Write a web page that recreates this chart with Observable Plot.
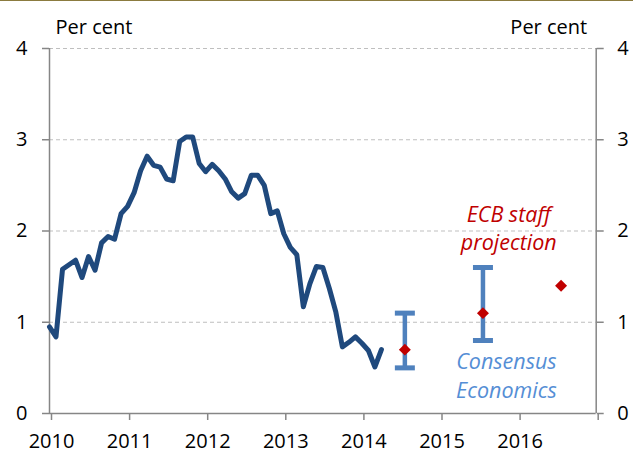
<!DOCTYPE html>
<html>
<head>
<meta charset="utf-8">
<script src="https://cdn.jsdelivr.net/npm/d3@7"></script>
<script src="https://cdn.jsdelivr.net/npm/@observablehq/plot@0.6"></script>
<style>
  html, body { margin: 0; padding: 0; background: #fff; }
  #chart { width: 633px; border-top: 1px solid #8B7B3F; }
  svg { display: block; }
</style>
</head>
<body>
<div id="chart"></div>
<script>
// Monthly HICP inflation (per cent), Jan 2010 – Apr 2014
const startYear = 2010;
const monthlyInflation = [
  0.95, 0.84, 1.58, 1.63, 1.68, 1.49, 1.72, 1.57, 1.87, 1.94, 1.91, 2.19,
  2.27, 2.42, 2.66, 2.82, 2.72, 2.70, 2.57, 2.55, 2.98, 3.03, 3.03, 2.74,
  2.65, 2.73, 2.66, 2.57, 2.43, 2.36, 2.41, 2.61, 2.61, 2.50, 2.19, 2.22,
  1.97, 1.82, 1.74, 1.17, 1.42, 1.61, 1.60, 1.37, 1.11, 0.73, 0.78, 0.84,
  0.77, 0.69, 0.51, 0.70
];

// Annual projections (placed at mid-year)
const projectionX = [2014.55, 2015.55, 2016.55];
const ecbProjection = [0.7, 1.1, 1.4];
const consensusX = [2014.55, 2015.55];
const consensusLow = [0.5, 0.8];
const consensusHigh = [1.1, 1.6];

// Axis ticks
const xTicks = [2010, 2011, 2012, 2013, 2014, 2015, 2016, 2017];
const yTicks = [0, 1, 2, 3, 4];
const unitLabel = "Per cent";

// Annotations
const annotationText = ["ECB staff\nprojection", "Consensus\nEconomics"];
const annotationX = [2015.88, 2015.85];
const annotationY = [1.79, 0.172];
const annotationColor = ["#C00000", "#558ED5"];

// Build tables
const lineData = monthlyInflation.map((v, i) => ({x: startYear + i / 12, y: v}));
const ecbData = ecbProjection.map((v, i) => ({x: projectionX[i], y: v}));
const consData = consensusLow.map((lo, i) => ({x: consensusX[i], lo, hi: consensusHigh[i]}));
const annData = annotationText.map((t, i) => ({t, x: annotationX[i], y: annotationY[i], c: annotationColor[i]}));

const capSymbol = {
  draw(ctx) { ctx.moveTo(-10, 0); ctx.lineTo(10, 0); }
};

const axisGray = "#868686";

const chart = Plot.plot({
  width: 633,
  height: 453,
  marginLeft: 49,
  marginRight: 37.3,
  marginTop: 47,
  marginBottom: 41,
  style: {fontFamily: "'Open Sans', sans-serif", fontSize: "20px", background: "white", overflow: "visible"},
  x: {domain: [2010, 2017]},
  y: {domain: [0, 4]},
  marks: [
    Plot.gridY(yTicks.filter(d => d > 0), {stroke: "#BFBFBF", strokeOpacity: 1, strokeWidth: 1, strokeDasharray: "4,3"}),
    Plot.ruleX([2010, 2017], {stroke: axisGray, strokeWidth: 1.5}),
    Plot.ruleY([0], {stroke: axisGray, strokeWidth: 1.5}),
    Plot.axisY({anchor: "left", ticks: yTicks, tickFormat: d => String(d), tickSize: 7, tickPadding: 15, fontSize: 20,
      stroke: axisGray, strokeWidth: 1.5, fill: "black", label: null}),
    Plot.axisY({anchor: "right", ticks: yTicks, tickFormat: d => String(d), tickSize: 7, tickPadding: 14, fontSize: 20,
      stroke: axisGray, strokeWidth: 1.5, fill: "black", label: null}),
    Plot.axisX({ticks: xTicks, tickSize: 7, tickPadding: 13, fontSize: 20, dx: 2,
      stroke: axisGray, strokeWidth: 1.5, fill: "black", label: null,
      tickFormat: d => (d < 2017 ? String(d) : "")}),
    Plot.text([unitLabel], {frameAnchor: "top-left", textAnchor: "start", lineAnchor: "bottom",
      dx: 6, dy: -14.4, fontSize: 20, fill: "black"}),
    Plot.text([unitLabel], {frameAnchor: "top-right", textAnchor: "end", lineAnchor: "bottom",
      dx: -9, dy: -14.4, fontSize: 20, fill: "black"}),
    Plot.line(lineData, {x: "x", y: "y", stroke: "#1F497D", strokeWidth: 5, strokeLinejoin: "round"}),
    Plot.ruleX(consData, {x: "x", y1: "lo", y2: "hi", stroke: "#4F81BD", strokeWidth: 4.5}),
    Plot.dot(consData, {x: "x", y: "lo", symbol: capSymbol, stroke: "#4F81BD", strokeWidth: 5, fill: "none", r: 10}),
    Plot.dot(consData, {x: "x", y: "hi", symbol: capSymbol, stroke: "#4F81BD", strokeWidth: 5, fill: "none", r: 10}),
    Plot.dot(ecbData, {x: "x", y: "y", symbol: "diamond2", r: 5.4, fill: "#C00000", stroke: "none"}),
    Plot.text(annData, {x: "x", y: "y", text: "t", fill: "c", fontSize: 21.5, fontStyle: "italic",
      textAnchor: "middle", lineAnchor: "bottom", lineHeight: 1.33})
  ]
});

document.getElementById("chart").appendChild(chart);
</script>
</body>
</html>
